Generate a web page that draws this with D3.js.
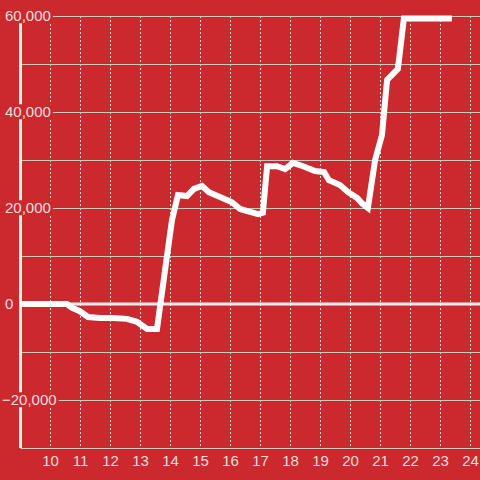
<!DOCTYPE html>
<html>
<head>
<meta charset="utf-8">
<script src="https://cdn.jsdelivr.net/npm/d3@7"></script>
<style>
  body { margin: 0; background: #cc292e; }
  svg { display: block; font-family: "Liberation Sans", Arial, sans-serif; }
</style>
</head>
<body>
<svg width="480" height="480"></svg>
<script>
var hours = [9.0, 10.55, 10.72, 10.98, 11.25, 11.65, 12.08, 12.55, 12.88, 13.22, 13.55,
             13.85, 14.05, 14.25, 14.55, 14.78, 15.05, 15.28, 15.65, 16.05, 16.32, 16.65,
             16.92, 17.08, 17.22, 17.55, 17.82, 18.08, 18.42, 18.82, 19.12, 19.28, 19.65,
             19.92, 20.22, 20.38, 20.58, 20.82, 21.05, 21.22, 21.58, 21.78, 23.38];
var values = [0, 0, -800, -1500, -2700, -2900, -2900, -3100, -3700, -5200, -5200,
              8500, 17500, 22700, 22500, 24000, 24600, 23300, 22300, 21200, 19800, 19200,
              18700, 19000, 28700, 28700, 28100, 29400, 28700, 27700, 27500, 25800, 24800,
              23300, 22100, 21000, 20000, 30000, 35200, 46700, 49000, 59500, 59500];
var xTicks = [10, 11, 12, 13, 14, 15, 16, 17, 18, 19, 20, 21, 22, 23, 24];
var yTicks = [60000, 40000, 20000, 0, -20000];
var yGrid = [60000, 50000, 40000, 30000, 20000, 10000, -10000, -20000];

var svg = d3.select("svg"),
    width = 480,
    mLeft = 20.5,
    mTop = 16,
    mBottom = 448;

var x = d3.scaleLinear().domain([9, 24]).range([mLeft, 470.5]);
var y = d3.scaleLinear().domain([-30000, 60000]).range([mBottom, mTop]);

// dashed vertical grid
svg.append("g").selectAll("line")
  .data(xTicks)
  .enter().append("line")
    .attr("x1", function(d) { return Math.floor(x(d)) + 0.5; })
    .attr("x2", function(d) { return Math.floor(x(d)) + 0.5; })
    .attr("y1", mTop)
    .attr("y2", mBottom - 2)
    .attr("stroke", "#ddd")
    .attr("stroke-dasharray", "2,2");

// horizontal grid
svg.append("g").selectAll("line")
  .data(yGrid)
  .enter().append("line")
    .attr("x1", mLeft)
    .attr("x2", width)
    .attr("y1", function(d) { return Math.round(y(d)) + 0.5; })
    .attr("y2", function(d) { return Math.round(y(d)) + 0.5; })
    .attr("stroke", "#c8c8c8");

// bottom axis line
svg.append("line")
  .attr("x1", mLeft).attr("x2", width)
  .attr("y1", mBottom + 0.5).attr("y2", mBottom + 0.5)
  .attr("stroke", "#c8c8c8");

// zero line
svg.append("line")
  .attr("x1", mLeft).attr("x2", width)
  .attr("y1", y(0)).attr("y2", y(0))
  .attr("stroke", "#eee")
  .attr("stroke-width", 3);

// y axis line
svg.append("line")
  .attr("x1", mLeft).attr("x2", mLeft)
  .attr("y1", mTop).attr("y2", mBottom)
  .attr("stroke", "#eee")
  .attr("stroke-width", 3);

var line = d3.line()
  .x(function(d, i) { return x(hours[i]); })
  .y(function(d) { return y(d); });

svg.append("path")
  .datum(values)
  .attr("d", line)
  .attr("fill", "none")
  .attr("stroke", "#fff")
  .attr("stroke-width", 6)
  .attr("stroke-linejoin", "miter")
  .attr("stroke-linecap", "butt");

// y labels with background boxes
var fmt = d3.format(",");
var yl = svg.append("g").selectAll("g")
  .data(yTicks)
  .enter().append("g");

yl.append("rect").attr("fill", "#cc292e");
yl.append("text")
  .attr("x", function(d) { return d < 0 ? 2 : 5; })
  .attr("y", function(d) { return y(d); })
  .attr("dy", "0.35em")
  .attr("fill", "#f2dede")
  .style("font-size", "15px")
  .text(function(d) { return fmt(d); });

yl.each(function() {
  var t = d3.select(this).select("text").node().getBBox();
  d3.select(this).select("rect")
    .attr("x", 0)
    .attr("y", t.y + 1)
    .attr("width", t.x + t.width + 2)
    .attr("height", t.height - 2);
});

// x labels
svg.append("g").selectAll("text")
  .data(xTicks)
  .enter().append("text")
    .attr("x", function(d) { return x(d); })
    .attr("y", 466)
    .attr("text-anchor", "middle")
    .attr("fill", "#f2dede")
    .style("font-size", "15px")
    .text(function(d) { return d; });
</script>
</body>
</html>
